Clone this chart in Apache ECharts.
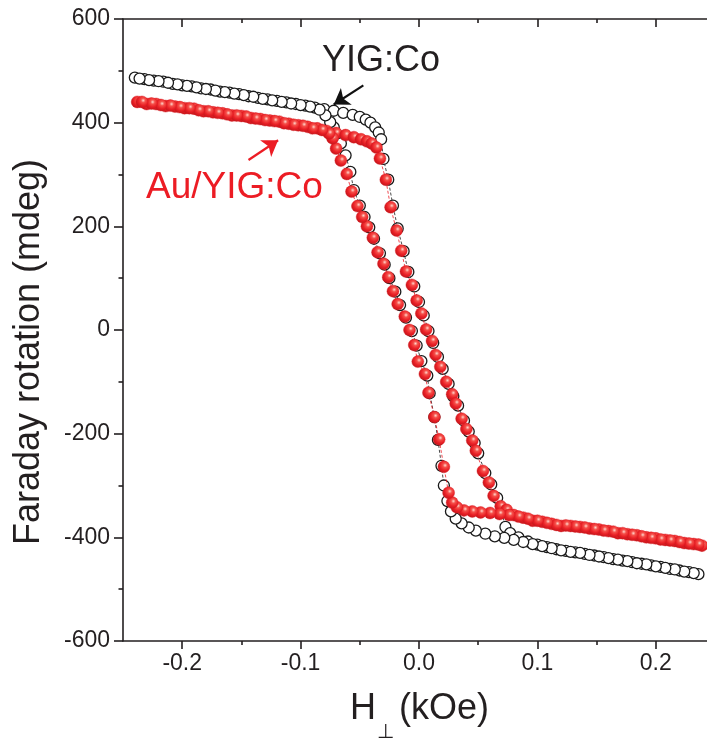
<!DOCTYPE html>
<html>
<head>
<meta charset="utf-8">
<script src="https://cdn.jsdelivr.net/npm/echarts@6/dist/echarts.min.js"></script>
<style>html,body{margin:0;padding:0;background:#fff;}#chart{width:707px;height:742px;}</style>
</head>
<body>
<div id="chart"></div>
<script>
// ---------- data (H in kOe, Faraday rotation in mdeg) ----------
// YIG:Co (open black circles)
const yigUpperUp = [[-0.240,487],[-0.232,484],[-0.224,481],[-0.216,479],[-0.208,475],[-0.200,472],[-0.192,470],[-0.184,466],[-0.176,464],[-0.168,460],[-0.160,458],[-0.152,455],[-0.144,451],[-0.136,448],[-0.128,445],[-0.120,442],[-0.112,439],[-0.104,436],[-0.096,433],[-0.088,429],[-0.080,426],[-0.072,423],[-0.064,419],[-0.056,415],[-0.050,411],[-0.045,406],[-0.041,400],[-0.037,391],[-0.034,381]];
const yigRightBranch = [[-0.032,368],[-0.030,330],[-0.026,290],[-0.022,240],[-0.018,196],[-0.013,152],[-0.009,112],[-0.004,84],[0.000,54],[0.004,28],[0.008,-2],[0.012,-25],[0.016,-52],[0.020,-75],[0.025,-104],[0.029,-128],[0.033,-146],[0.038,-175],[0.042,-196],[0.047,-218],[0.050,-238],[0.056,-276],[0.061,-298],[0.066,-324],[0.070,-352],[0.073,-380]];
const yigLowerUp = [[0.077,-392],[0.084,-400],[0.092,-408],[0.100,-414],[0.108,-419],[0.116,-423],[0.124,-426],[0.132,-429],[0.140,-432],[0.148,-435],[0.156,-438],[0.164,-442],[0.172,-445],[0.180,-448],[0.188,-451],[0.196,-454],[0.204,-457],[0.212,-461],[0.220,-464],[0.228,-467],[0.236,-471]];
const yigLowerDown = [[0.232,-469],[0.224,-466],[0.216,-462],[0.208,-459],[0.200,-456],[0.192,-452],[0.184,-450],[0.176,-446],[0.168,-443],[0.160,-440],[0.152,-437],[0.144,-434],[0.136,-430],[0.128,-428],[0.120,-425],[0.112,-421],[0.104,-417],[0.096,-413],[0.088,-409],[0.080,-405],[0.072,-401],[0.064,-398],[0.056,-393],[0.048,-387],[0.042,-381],[0.036,-373],[0.031,-364]];
const yigLeftBranch = [[0.027,-350],[0.024,-330],[0.021,-300],[0.019,-262],[0.016,-212],[0.013,-168],[0.009,-122],[0.007,-88],[0.002,-60],[-0.002,-30],[-0.006,-2],[-0.011,24],[-0.016,48],[-0.020,74],[-0.025,100],[-0.029,126],[-0.033,148],[-0.038,176],[-0.042,198],[-0.046,218],[-0.050,240],[-0.055,270],[-0.058,305],[-0.062,337],[-0.066,360],[-0.070,379],[-0.072,391],[-0.075,401]];
const yigUpperDown = [[-0.079,414],[-0.084,425],[-0.092,431],[-0.100,434],[-0.108,437],[-0.116,440],[-0.124,443],[-0.132,446],[-0.140,450],[-0.148,453],[-0.156,456],[-0.164,459],[-0.172,462],[-0.180,465],[-0.188,468],[-0.196,471],[-0.204,474],[-0.212,477],[-0.220,480],[-0.228,482],[-0.236,485]];

// Au/YIG:Co (red spheres)
const auUpperUp = [[-0.238,440],[-0.230,436],[-0.222,436],[-0.214,432],[-0.206,431],[-0.198,428],[-0.190,427],[-0.182,422],[-0.174,420],[-0.166,418],[-0.158,414],[-0.150,413],[-0.142,409],[-0.134,407],[-0.126,404],[-0.118,402],[-0.110,398],[-0.102,395],[-0.094,392],[-0.086,389],[-0.078,384],[-0.070,380],[-0.062,376],[-0.055,372],[-0.049,368],[-0.044,364],[-0.040,360],[-0.036,352]];
const auRightBranch = [[-0.033,331],[-0.028,290],[-0.024,237],[-0.019,192],[-0.015,153],[-0.011,113],[-0.006,87],[-0.002,57],[0.002,32],[0.006,1],[0.011,-21],[0.014,-48],[0.018,-71],[0.023,-100],[0.028,-124],[0.031,-142],[0.036,-171],[0.040,-191],[0.045,-213],[0.048,-233],[0.054,-272],[0.059,-294],[0.063,-320],[0.069,-340]];
const auLowerUp = [[0.074,-347],[0.080,-357],[0.088,-362],[0.096,-368],[0.104,-370],[0.112,-374],[0.120,-378],[0.128,-378],[0.136,-380],[0.144,-383],[0.152,-385],[0.160,-388],[0.168,-392],[0.176,-394],[0.184,-396],[0.192,-400],[0.200,-402],[0.208,-405],[0.216,-407],[0.224,-411],[0.232,-413],[0.239,-416]];
const auLowerDown = [[0.236,-414],[0.228,-412],[0.220,-409],[0.212,-406],[0.204,-404],[0.196,-401],[0.188,-398],[0.180,-395],[0.172,-392],[0.164,-389],[0.156,-387],[0.148,-384],[0.140,-381],[0.132,-379],[0.124,-377],[0.116,-376],[0.108,-372],[0.100,-368],[0.092,-364],[0.084,-360],[0.076,-357],[0.068,-355],[0.060,-353],[0.052,-352],[0.045,-350],[0.038,-348],[0.032,-342]];
const auLeftBranch = [[0.028,-333],[0.025,-314],[0.021,-264],[0.017,-211],[0.013,-168],[0.008,-121],[0.005,-85],[-0.001,-61],[-0.004,-29],[-0.008,0],[-0.012,26],[-0.018,50],[-0.022,75],[-0.026,102],[-0.030,128],[-0.035,150],[-0.039,178],[-0.044,200],[-0.048,218],[-0.052,239],[-0.057,267],[-0.061,301],[-0.066,327],[-0.070,350],[-0.073,370]];
const auUpperDown = [[-0.076,379],[-0.082,386],[-0.090,389],[-0.098,394],[-0.106,396],[-0.114,399],[-0.122,403],[-0.130,405],[-0.138,408],[-0.146,412],[-0.154,414],[-0.162,416],[-0.170,419],[-0.178,422],[-0.186,424],[-0.194,428],[-0.202,430],[-0.210,433],[-0.218,434],[-0.226,437],[-0.234,440]];

// annotation arrows (data coordinates: tail, head)
const yigArrow = [[-0.047,472],[-0.072,435]];
const auArrow = [[-0.144,328],[-0.119,366]];

// axes
const xMajorTicks = [-0.2,-0.1,0.0,0.1,0.2];
const xMinorTicks = [-0.15,-0.05,0.05,0.15];
const xRange = [-0.25,0.25];
const yRange = [-600,600];
const yInterval = 200;

// ---------- chart ----------
const FONT = "'Liberation Sans', Arial, Helvetica, sans-serif";
const INK = '#231f20';
const RED = '#ec1c24';
const chart = echarts.init(document.getElementById('chart'), null, {renderer:'canvas'});

const gridRect = {left:123, top:19, width:592, height:622, outerBoundsMode:'none', containLabel:false};
const lineW = 1.6;

function xAxisBase(grid, pos, ticks, len, inside, showLine, showLabel) {
  return {
    type:'value', gridIndex:grid, position:pos, min:xRange[0], max:xRange[1],
    axisLine:{show:showLine, onZero:false, lineStyle:{color:INK, width:lineW}},
    axisTick:{show:true, inside:inside, length:len, customValues:ticks, lineStyle:{color:INK, width:lineW}},
    axisLabel:{show:showLabel, customValues:ticks, formatter:v=>v.toFixed(1), fontFamily:FONT, fontSize:23, color:INK, margin:11},
    splitLine:{show:false}, minorTick:{show:false}
  };
}

const redBall = {
  type:'radial', x:0.6, y:0.38, r:0.62,
  colorStops:[{offset:0,color:'#ffd6cc'},{offset:0.28,color:'#f5504a'},{offset:0.65,color:'#ea2026'},{offset:1,color:'#c4161c'}]
};

const option = {
  animation:false,
  backgroundColor:'#fff',
  grid:[Object.assign({}, gridRect), Object.assign({}, gridRect)],
  xAxis:[
    xAxisBase(0,'bottom',xMajorTicks,8,false,true,true),
    xAxisBase(0,'top',xMajorTicks,8,true,true,false),
    xAxisBase(1,'bottom',xMinorTicks,4,false,false,false),
    xAxisBase(1,'top',xMinorTicks,4,true,false,false)
  ],
  yAxis:[
    {type:'value', gridIndex:0, position:'left', min:yRange[0], max:yRange[1], interval:yInterval,
     axisLine:{show:true, onZero:false, lineStyle:{color:INK, width:lineW}},
     axisTick:{show:true, inside:false, length:9, lineStyle:{color:INK, width:lineW}},
     minorTick:{show:true, splitNumber:2, length:4.5, lineStyle:{color:INK, width:lineW}},
     axisLabel:{show:true, fontFamily:FONT, fontSize:23, color:INK, margin:13},
     splitLine:{show:false}},
    {type:'value', gridIndex:0, position:'right', min:yRange[0], max:yRange[1], interval:yInterval,
     axisLine:{show:true, onZero:false, lineStyle:{color:INK, width:lineW}},
     axisTick:{show:true, inside:true, length:8, lineStyle:{color:INK, width:lineW}},
     axisLabel:{show:false}, splitLine:{show:false}},
    {type:'value', gridIndex:1, min:yRange[0], max:yRange[1], show:false},
    {type:'value', gridIndex:1, min:yRange[0], max:yRange[1], show:false, position:'right'}
  ],
  series:[
    {
      name:'YIG:Co', type:'line', xAxisIndex:0, yAxisIndex:0,
      data:[].concat(yigUpperUp, yigRightBranch, yigLowerUp, yigLowerDown, yigLeftBranch, yigUpperDown),
      symbol:'circle', symbolSize:11, showSymbol:true,
      itemStyle:{color:'#ffffff', borderColor:'#1a1a1a', borderWidth:1.3},
      lineStyle:{color:'#1a1a1a', width:0.8, type:[3,2]},
      emphasis:{disabled:true}, z:2,
      markLine:{
        silent:true, symbol:['none','arrow'], symbolSize:15, animation:false,
        label:{show:false}, emphasis:{disabled:true},
        lineStyle:{color:'#111', width:2.2, type:'solid', opacity:1},
        data:[[{coord:yigArrow[0]},{coord:yigArrow[1]}]]
      }
    },
    {
      name:'Au/YIG:Co', type:'line', xAxisIndex:0, yAxisIndex:0,
      data:[].concat(auUpperUp, auRightBranch, auLowerUp, auLowerDown, auLeftBranch, auUpperDown),
      symbol:'circle', symbolSize:12, showSymbol:true,
      itemStyle:{color:redBall, borderColor:'#d8181e', borderWidth:0.4},
      lineStyle:{color:RED, width:0.8, type:[3,2]},
      emphasis:{disabled:true}, z:3,
      markLine:{
        silent:true, symbol:['none','arrow'], symbolSize:15, animation:false,
        label:{show:false}, emphasis:{disabled:true},
        lineStyle:{color:RED, width:2.2, type:'solid', opacity:1},
        data:[[{coord:auArrow[0]},{coord:auArrow[1]}]]
      }
    }
  ],
  graphic:[
    {type:'text', x:322, y:61, z:10, style:{text:'YIG:Co', font:'36px '+FONT, fill:INK, align:'left', verticalAlign:'middle'}},
    {type:'text', x:146, y:188, z:10, style:{text:'Au/YIG:Co', font:'37px '+FONT, fill:RED, align:'left', verticalAlign:'middle'}},
    {type:'text', x:29, y:352, rotation:Math.PI/2, z:10, style:{text:'Faraday rotation (mdeg)', font:'36px '+FONT, fill:INK, align:'center', verticalAlign:'middle'}},
    {type:'text', x:350, y:709, z:10, style:{text:'H', font:'36px '+FONT, fill:INK, align:'left', verticalAlign:'middle'}},
    {type:'text', x:385, y:732, z:10, style:{text:'\u22A5', font:'20px '+FONT, fill:INK, align:'center', verticalAlign:'middle'}},
    {type:'text', x:399, y:709, z:10, style:{text:'(kOe)', font:'36px '+FONT, fill:INK, align:'left', verticalAlign:'middle'}}
  ]
};
chart.setOption(option);
</script>
</body>
</html>
